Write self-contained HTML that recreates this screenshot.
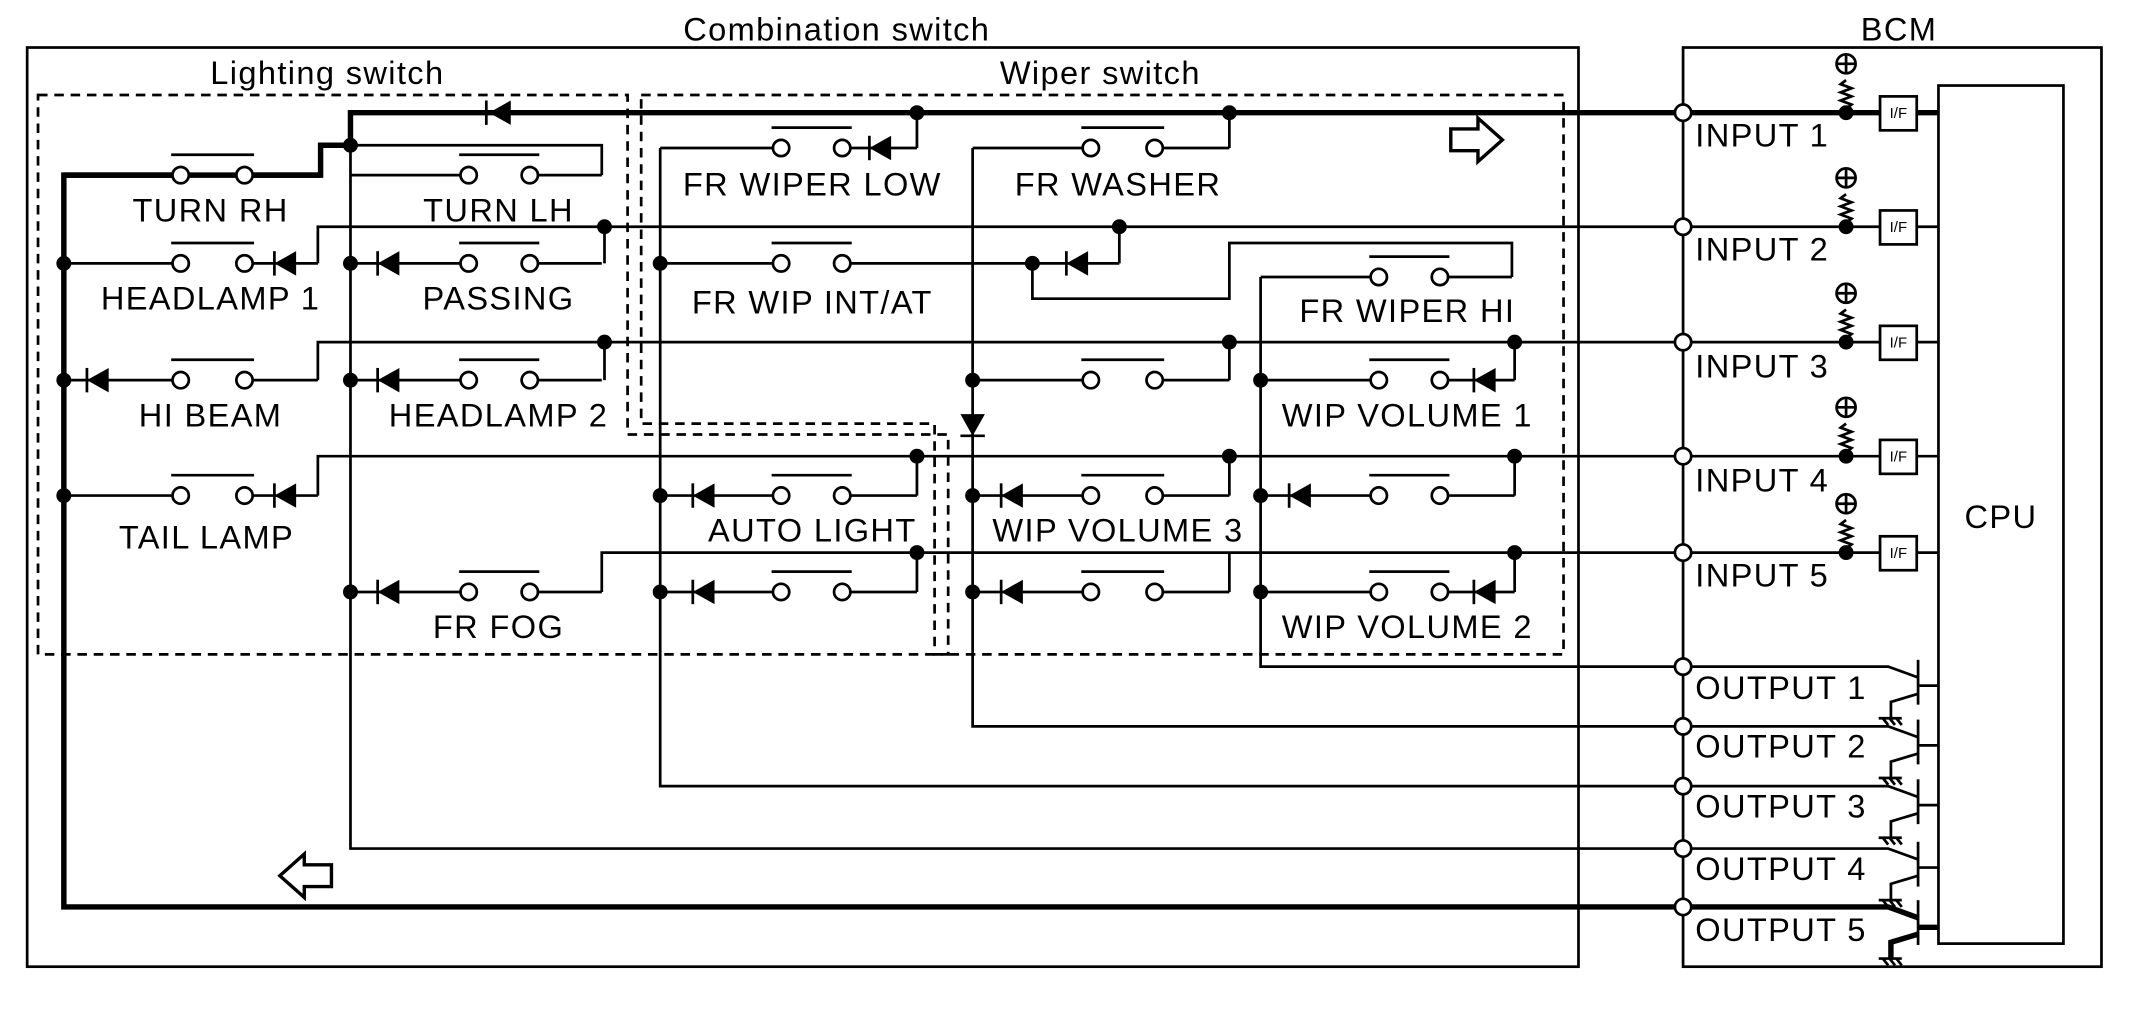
<!DOCTYPE html>
<html><head><meta charset="utf-8"><style>
html,body{margin:0;padding:0;background:#fff;}
svg{display:block}
text{font-family:"Liberation Sans",sans-serif;fill:#000;}
</style></head><body>
<svg id="s" width="2130" height="1021" viewBox="0 0 1568 752" preserveAspectRatio="none" xmlns="http://www.w3.org/2000/svg">
<g fill="none" stroke="#000" stroke-width="2">
<rect x="20" y="35" width="1142" height="677"/>
<rect x="1239" y="35" width="308" height="677"/>
<rect x="1427" y="63" width="92" height="632"/>
<path d="M28,70 H462 V320 H698 V482 H28 Z" stroke-dasharray="7,5"/>
<path d="M472,70 H1151 V482 H688 V312 H472 Z" stroke-dasharray="7,5"/>
<path d="M1239,83 H258 V107 H236 V129 H47 V668 H1239" stroke-width="4"/>
<path d="M1239,83 H1427" stroke-width="4"/>
<path d="M1239,668 H1390 L1412,676 M1412,683 H1427" stroke-width="4"/>
<path d="M258,107 H443 V129 M258,107 V625 H1239"/>
<path d="M234,194 V167 H1427 M445,167 V194"/>
<path d="M234,280 V252 H1427 M445,252 V280"/>
<path d="M234,365 V336 H1427"/>
<path d="M443,436 V407 H1427"/>
<path d="M675,109 V83 M905,109 V83"/>
<path d="M486,109 V579 H1239 M716,109 V535 H1239 M928,204 V491 H1239"/>
<path d="M760,194 V220 H905 V179 H1113 V204"/>
<path d="M824,194 V167"/>
<path d="M905,280 V252 M1115,280 V252 M675,365 V336 M905,365 V336 M1115,365 V336 M675,436 V407 M905,436 V407 M1115,436 V407"/>
</g>
<g id="g"></g>
<g font-size="24" letter-spacing="1">
<text x="616" y="30" text-anchor="middle">Combination switch</text>
<text x="1398" y="30" text-anchor="middle">BCM</text>
<text x="241" y="62" text-anchor="middle">Lighting switch</text>
<text x="810" y="62" text-anchor="middle">Wiper switch</text>
<text x="1473" y="389" text-anchor="middle">CPU</text>
<text x="155" y="163" text-anchor="middle">TURN RH</text>
<text x="367" y="163" text-anchor="middle">TURN LH</text>
<text x="155" y="228" text-anchor="middle">HEADLAMP 1</text>
<text x="367" y="228" text-anchor="middle">PASSING</text>
<text x="155" y="314" text-anchor="middle">HI BEAM</text>
<text x="367" y="314" text-anchor="middle">HEADLAMP 2</text>
<text x="152" y="404" text-anchor="middle">TAIL LAMP</text>
<text x="367" y="470" text-anchor="middle">FR FOG</text>
<text x="598" y="144" text-anchor="middle">FR WIPER LOW</text>
<text x="823" y="144" text-anchor="middle">FR WASHER</text>
<text x="598" y="231" text-anchor="middle">FR WIP INT/AT</text>
<text x="1036" y="237" text-anchor="middle">FR WIPER HI</text>
<text x="1036" y="314" text-anchor="middle">WIP VOLUME 1</text>
<text x="598" y="399" text-anchor="middle">AUTO LIGHT</text>
<text x="823" y="399" text-anchor="middle">WIP VOLUME 3</text>
<text x="1036" y="470" text-anchor="middle">WIP VOLUME 2</text>
<text x="1248" y="108">INPUT 1</text>
<text x="1248" y="192">INPUT 2</text>
<text x="1248" y="278">INPUT 3</text>
<text x="1248" y="362">INPUT 4</text>
<text x="1248" y="432">INPUT 5</text>
<text x="1248" y="515">OUTPUT 1</text>
<text x="1248" y="558">OUTPUT 2</text>
<text x="1248" y="602">OUTPUT 3</text>
<text x="1248" y="648">OUTPUT 4</text>
<text x="1248" y="693">OUTPUT 5</text>
</g>
<g font-size="11" text-anchor="middle" id="ift"></g>
</svg>
<script>
var g=document.getElementById("g"),h="";
function L(d,w){h+='<path d="'+d+'" fill="none" stroke="#000" stroke-width="'+(w||2)+'"/>';}
function dot(x,y){h+='<circle cx="'+x+'" cy="'+y+'" r="5.5" fill="#000"/>';}
function oc(x,y){h+='<circle cx="'+x+'" cy="'+y+'" r="6" fill="#fff" stroke="#000" stroke-width="2"/>';}
function sw(a,c1,c2,b,y,t){L('M'+a+','+y+'H'+(c1-6)+'M'+(c2+6)+','+y+'H'+b,t);L('M'+(c1-7)+','+(y-15)+'H'+(c2+7));oc(c1,y);oc(c2,y);}
function dl(x,y){h+='<path d="M'+(x-8)+','+y+' L'+(x+8)+','+(y-9)+' V'+(y+9)+' Z" fill="#000"/>';L('M'+(x-8)+','+(y-9)+'V'+(y+9));}
function dd(x,y){h+='<path d="M'+x+','+(y+8)+' L'+(x-9)+','+(y-8)+' H'+(x+9)+' Z" fill="#000"/>';L('M'+(x-9)+','+(y+8)+'H'+(x+9));}
sw(47,133,180,236,129,4);
sw(258,345,390,443,129);
sw(47,133,180,234,194);dl(210,194);
sw(258,345,390,443,194);dl(286,194);
sw(47,133,180,234,280);dl(72,280);
sw(258,345,390,443,280);dl(286,280);
sw(47,133,180,234,365);dl(210,365);
sw(258,345,390,443,436);dl(286,436);
[[47,194],[47,280],[47,365],[258,107],[258,194],[258,280],[258,436],[445,167],[445,252]].forEach(function(p){dot(p[0],p[1]);});
sw(486,575,620,675,109);dl(648,109);
sw(716,803,850,905,109);
sw(486,575,620,760,194);L('M760,194H824');dl(793,194);
sw(928,1015,1060,1113,204);
sw(716,803,850,905,280);
sw(928,1015,1060,1115,280);dl(1093,280);
sw(486,575,620,675,365);dl(518,365);
sw(716,803,850,905,365);dl(745,365);
sw(928,1015,1060,1115,365);dl(957,365);
sw(486,575,620,675,436);dl(518,436);
sw(716,803,850,905,436);dl(745,436);
sw(928,1015,1060,1115,436);dl(1093,436);
dd(716,313);
L('M358,74V92');h+='<path d="M360,83 L376,74 V92 Z" fill="#000"/>';
[[675,83],[905,83],[486,194],[760,194],[824,167],[716,280],[905,252],[928,280],[1115,252],[486,365],[675,336],[716,365],[905,336],[928,365],[1115,336],[486,436],[675,407],[716,436],[928,436],[1115,407]].forEach(function(p){dot(p[0],p[1]);});
h+='<path d="M1068,95 H1088 V87 L1106,103 L1088,119 V111 H1068 Z" fill="#fff" stroke="#000" stroke-width="2.5"/>';
h+='<path d="M244,637 H224 V629 L206,645 L224,661 V653 H244 Z" fill="#fff" stroke="#000" stroke-width="2.5"/>';
var ift="";
[83,167,252,336,407].forEach(function(y){
 dot(1359,y);
 L('M1359,'+(y-24)+' l-4,3 l8,3 l-8,3 l8,3 l-8,3 l8,3 l-4,3 V'+y);
 h+='<circle cx="1359" cy="'+(y-36)+'" r="7" fill="#fff" stroke="#000" stroke-width="2"/>';
 L('M1352,'+(y-36)+'H1366M1359,'+(y-43)+'V'+(y-29));
 h+='<rect x="1384" y="'+(y-12)+'" width="27" height="25" fill="#fff" stroke="#000" stroke-width="2"/>';
 ift+='<text x="1397.5" y="'+(y+4)+'">I/F</text>';
 oc(1239,y);
});
document.getElementById("ift").innerHTML=ift;
[491,535,579,625,668].forEach(function(y,i){
 var w=i==4?4:2;
 if(i<4)L('M1239,'+y+'H1390L1412,'+(y+8),w);
 L('M1412,'+(y-5)+'V'+(y+28));
 if(i<4)L('M1412,'+(y+14)+'H1427');
 L('M1412,'+(y+20)+'L1392,'+(y+26)+'V'+(y+38),w);
 L('M1383,'+(y+38)+'H1400M1386,'+(y+38)+'l4,5M1391,'+(y+38)+'l4,5M1396,'+(y+38)+'l4,5');
 oc(1239,y);
});
g.innerHTML=h;
</script>
</body></html>
